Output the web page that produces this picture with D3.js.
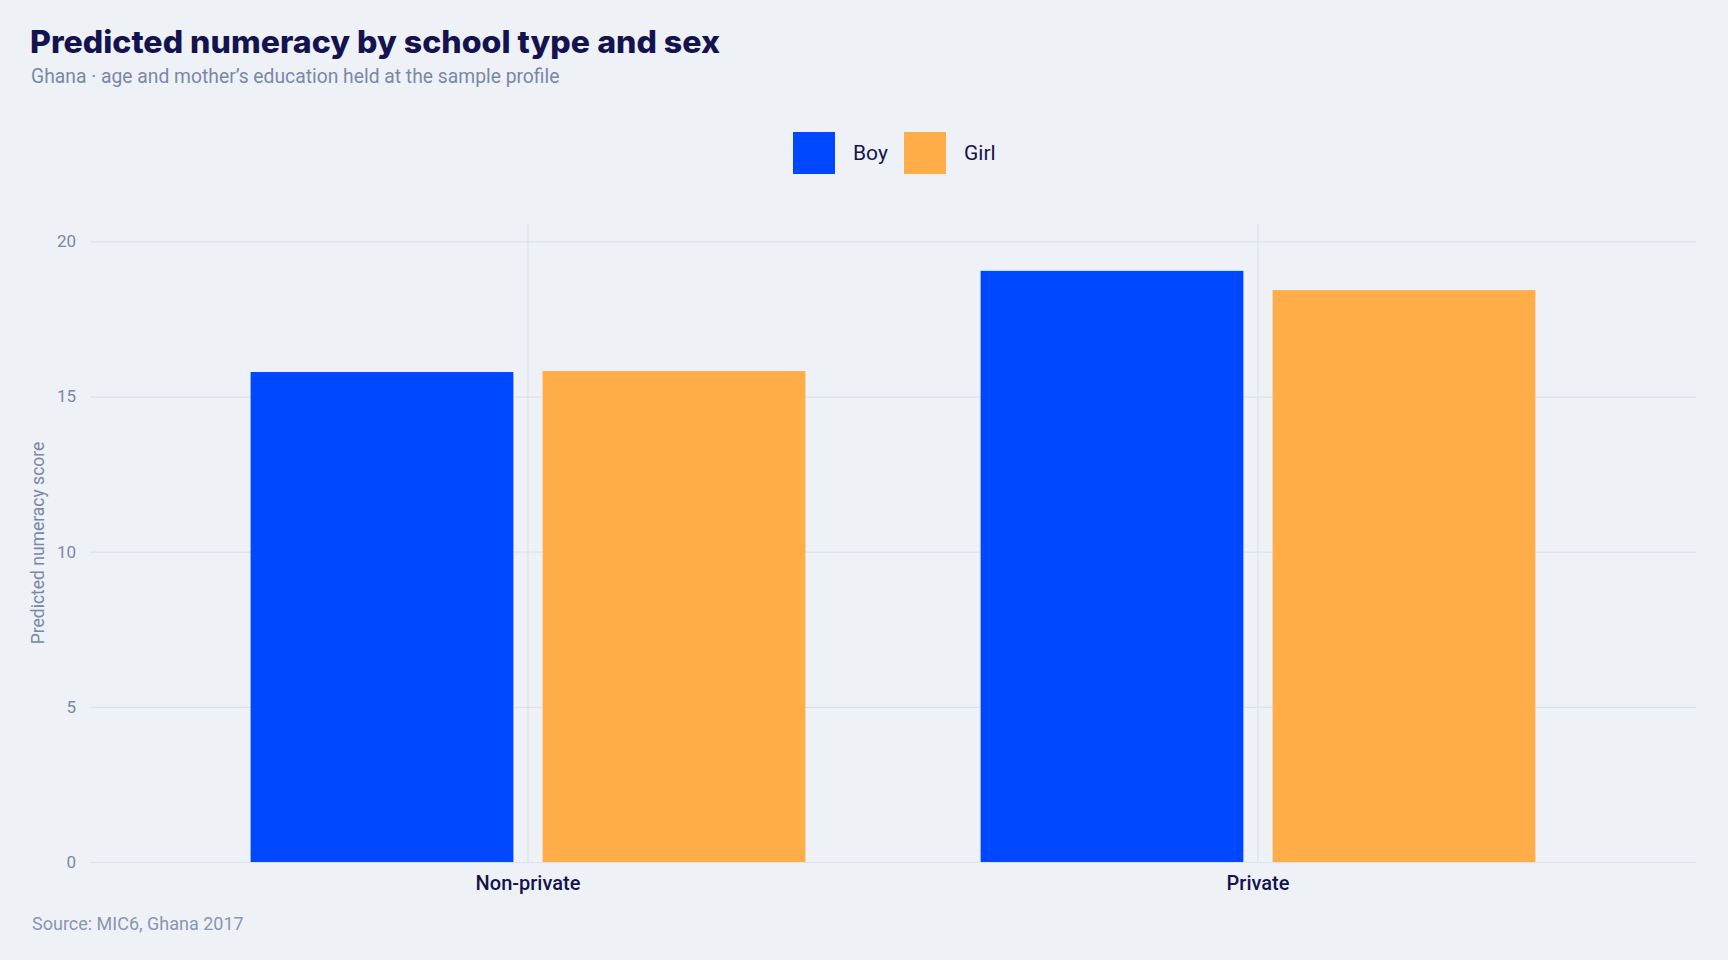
<!DOCTYPE html>
<html>
<head>
<meta charset="utf-8">
<script src="https://cdn.jsdelivr.net/npm/d3@7"></script>
<style>
  html, body { margin: 0; padding: 0; background: #eef2f7; }
  svg { display: block; font-family: Roboto, 'Open Sans', sans-serif; }
</style>
</head>
<body>
<div class="chart"></div>
<script>
const schoolTypes = ['Non-private', 'Private']
const sexes = ['Boy', 'Girl']
const boyScores = [15.79, 19.05]
const girlScores = [15.82, 18.43]
const yTicks = [0, 5, 10, 15, 20]

const colors = { Boy: '#0048ff', Girl: '#ffad48' }

const width = 1728
const height = 960
const margin = { top: 224, right: 32, bottom: 98, left: 90 }

const rows = schoolTypes.map((s, i) => ({
  type: s,
  values: [
    { sex: 'Boy', value: boyScores[i] },
    { sex: 'Girl', value: girlScores[i] }
  ]
}))

const svg = d3.select('.chart')
  .append('svg')
  .attr('width', width)
  .attr('height', height)

svg.append('rect')
  .attr('width', width)
  .attr('height', height)
  .attr('fill', '#eef2f7')

const x = d3.scaleBand()
  .domain(schoolTypes)
  .range([margin.left, width - margin.right])
  .paddingInner(0.24)
  .paddingOuter(0.22)

const xInner = d3.scaleBand()
  .domain(sexes)
  .range([0, x.bandwidth()])
  .paddingInner(0.1)

const y = d3.scaleLinear()
  .domain([0, 20.56])
  .range([height - margin.bottom, margin.top])

// horizontal grid + y tick labels
const yAxis = svg.append('g')
  .attr('transform', `translate(${margin.left},0)`)
  .call(d3.axisLeft(y)
    .tickValues(yTicks)
    .tickSize(-(width - margin.left - margin.right))
    .tickPadding(14))

yAxis.select('.domain').remove()
yAxis.selectAll('.tick line')
  .attr('stroke', '#dce2ea')
  .attr('stroke-width', 1.2)
yAxis.selectAll('.tick text')
  .attr('fill', '#7b87a6')
  .attr('font-size', 17)
  .attr('font-family', 'Roboto, sans-serif')

// vertical grid at category centres
svg.append('g')
  .selectAll('line')
  .data(schoolTypes)
  .join('line')
  .attr('x1', d => x(d) + x.bandwidth() / 2)
  .attr('x2', d => x(d) + x.bandwidth() / 2)
  .attr('y1', margin.top)
  .attr('y2', height - margin.bottom)
  .attr('stroke', '#dce2ea')
  .attr('stroke-width', 1.2)

// bars
svg.append('g')
  .selectAll('g')
  .data(rows)
  .join('g')
  .attr('transform', d => `translate(${x(d.type)},0)`)
  .selectAll('rect')
  .data(d => d.values)
  .join('rect')
  .attr('x', d => xInner(d.sex))
  .attr('y', d => y(d.value))
  .attr('width', xInner.bandwidth())
  .attr('height', d => y(0) - y(d.value))
  .attr('fill', d => colors[d.sex])

// category labels
const xAxis = svg.append('g')
  .attr('transform', `translate(0,${height - margin.bottom})`)
  .call(d3.axisBottom(x).tickSize(0).tickPadding(14))

xAxis.select('.domain').remove()
xAxis.selectAll('.tick text')
  .attr('fill', '#15134f')
  .attr('font-size', 20)
  .attr('font-weight', 500)
  .attr('font-family', 'Roboto, sans-serif')

// y axis title
svg.append('text')
  .attr('transform', `translate(44,${(margin.top + height - margin.bottom) / 2}) rotate(-90)`)
  .attr('text-anchor', 'middle')
  .attr('fill', '#7b87a6')
  .attr('font-size', 17.5)
  .text('Predicted numeracy score')

// legend
const legend = svg.append('g')
  .selectAll('g')
  .data(sexes)
  .join('g')
  .attr('transform', (d, i) => `translate(${793 + i * 111},132)`)

legend.append('rect')
  .attr('width', 42)
  .attr('height', 42)
  .attr('fill', d => colors[d])

legend.append('text')
  .attr('x', 60)
  .attr('y', 28)
  .attr('fill', '#15134f')
  .attr('font-size', 21)
  .text(d => d)

// titles
svg.append('text')
  .attr('x', 30)
  .attr('y', 53)
  .attr('fill', '#15134f')
  .attr('font-family', 'Inter, "Noto Sans", sans-serif')
  .attr('font-weight', 800)
  .attr('font-size', 31)
  .attr('textLength', 690)
  .attr('lengthAdjust', 'spacingAndGlyphs')
  .text('Predicted numeracy by school type and sex')

svg.append('text')
  .attr('x', 31)
  .attr('y', 82.5)
  .attr('fill', '#7b87a6')
  .attr('font-size', 19.3)
  .text('Ghana · age and mother’s education held at the sample profile')

svg.append('text')
  .attr('x', 32)
  .attr('y', 930)
  .attr('fill', '#8b95ae')
  .attr('font-size', 18)
  .text('Source: MIC6, Ghana 2017')
</script>
</body>
</html>
